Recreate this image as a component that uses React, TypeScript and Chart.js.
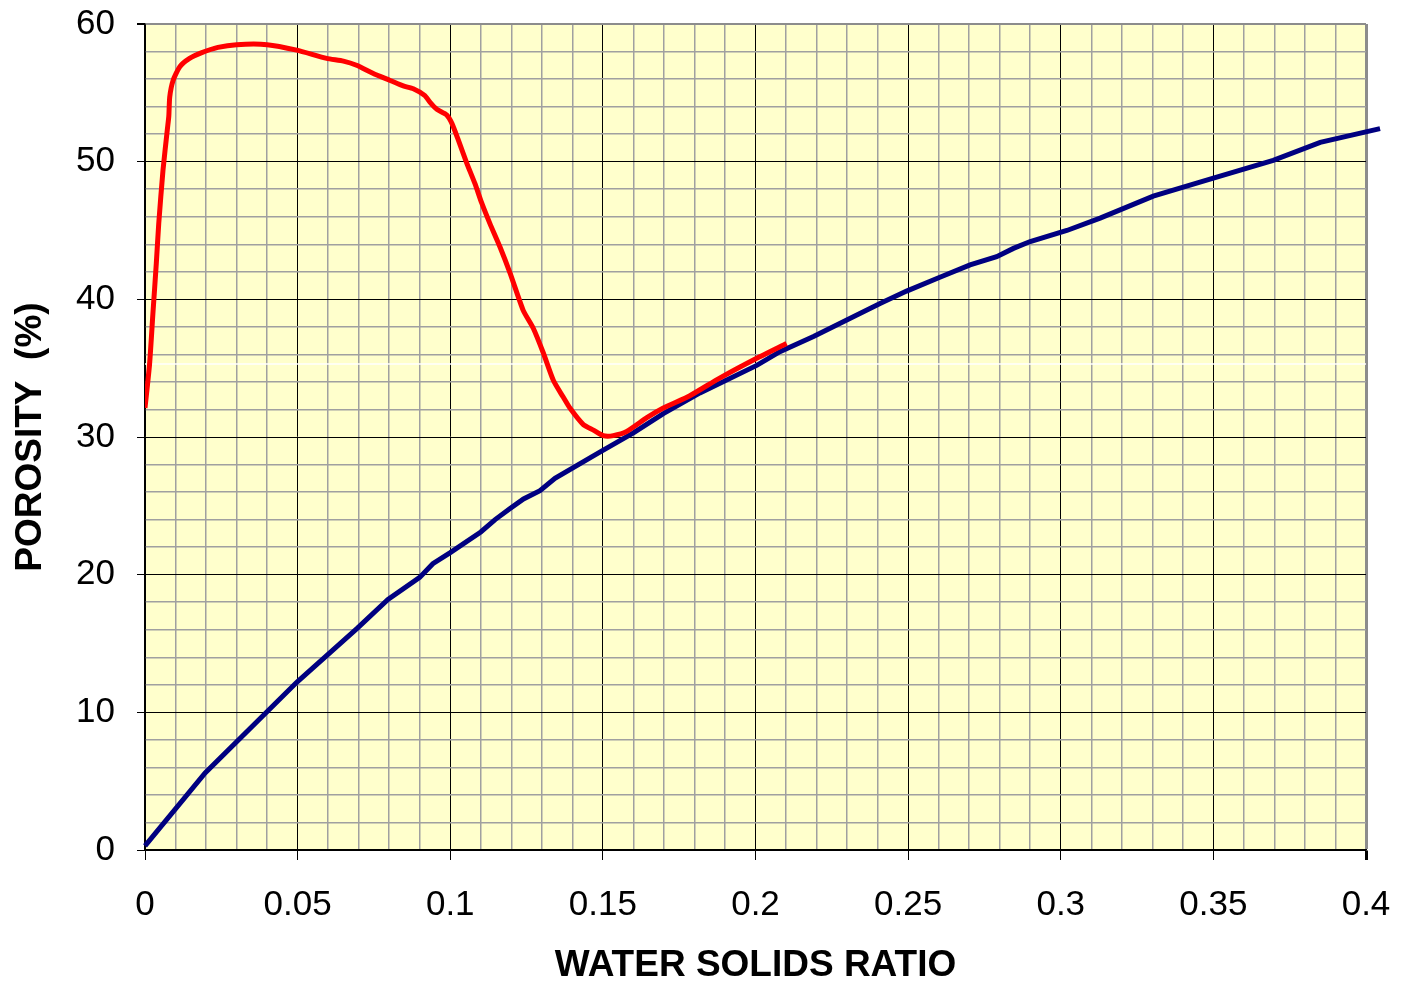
import React, { useEffect, useRef } from "react";
import { Chart, registerables } from "chart.js";

Chart.register(...registerables);

// Red curve (experimental)
const redX = [0, 0.0015, 0.0026, 0.0037, 0.0045, 0.0059, 0.0073, 0.0078, 0.0081, 0.0092, 0.0114, 0.0146, 0.0184, 0.0239, 0.03, 0.04, 0.0497, 0.0595, 0.065, 0.0693, 0.0748, 0.0803, 0.0846, 0.0879, 0.0917, 0.0934, 0.0956, 0.0988, 0.1005, 0.1026, 0.1054, 0.1081, 0.1103, 0.113, 0.1163, 0.1196, 0.1239, 0.1272, 0.1305, 0.1338, 0.137, 0.1392, 0.1436, 0.1469, 0.1501, 0.1534, 0.1578, 0.1644, 0.1698, 0.1785, 0.1884, 0.1993, 0.2102];
const redY = [32.1, 35.3, 39.0, 42.6, 45.5, 49.4, 52.3, 53.3, 54.7, 55.9, 56.9, 57.5, 57.9, 58.3, 58.5, 58.5, 58.1, 57.5, 57.3, 57.0, 56.4, 55.9, 55.5, 55.3, 54.8, 54.3, 53.8, 53.4, 52.8, 51.6, 49.9, 48.4, 47.0, 45.5, 43.8, 41.9, 39.2, 37.9, 36.1, 34.1, 32.9, 32.1, 30.9, 30.5, 30.1, 30.1, 30.4, 31.4, 32.1, 33.0, 34.3, 35.6, 36.8];

// Blue curve (theoretical)
const blueX = [0, 0.0197, 0.0498, 0.0695, 0.0796, 0.09, 0.0943, 0.1, 0.11, 0.1147, 0.1196, 0.124, 0.1294, 0.1343, 0.149, 0.16, 0.1698, 0.1818, 0.2004, 0.208, 0.219, 0.2299, 0.2408, 0.2495, 0.2604, 0.2703, 0.279, 0.2845, 0.29, 0.302, 0.3129, 0.3303, 0.35, 0.3696, 0.385, 0.4046];
const blueY = [0.3, 5.6, 12.2, 16.1, 18.2, 19.8, 20.8, 21.6, 23.1, 24.0, 24.8, 25.5, 26.1, 27.0, 28.9, 30.3, 31.7, 33.2, 35.2, 36.2, 37.3, 38.5, 39.7, 40.6, 41.6, 42.5, 43.1, 43.7, 44.2, 45.0, 45.9, 47.5, 48.8, 50.1, 51.4, 52.4];

// Faint white horizontal line
const whiteX = [0, 0.4];
const whiteY = [35.3, 35.3];

const xMin = 0, xMax = 0.4, xMinorStep = 0.01, xMajorStep = 0.05;
const yMin = 0, yMax = 60, yMinorStep = 2, yMajorStep = 10;

const xTitle = "WATER SOLIDS RATIO";
const yTitle = "POROSITY  (%)";

const FONT = "'Liberation Sans', Arial, sans-serif";

function isMajor(v: number, step: number) {
  const r = v / step;
  return Math.abs(r - Math.round(r)) < 1e-6;
}

function pts(xs: number[], ys: number[]) {
  return xs.map((x, i) => ({ x, y: ys[i] }));
}

export default function App() {
  const ref = useRef<HTMLCanvasElement | null>(null);

  useEffect(() => {
    if (!ref.current) return;
    const chart = new Chart(ref.current, {
      type: "scatter",
      data: {
        datasets: [
          {
            data: pts(redX, redY),
            showLine: true,
            borderColor: "#FF0000",
            borderWidth: 5,
            pointRadius: 0,
            tension: 0.2,
            order: 1,
          },
          {
            data: pts(blueX, blueY),
            showLine: true,
            borderColor: "#000080",
            borderWidth: 5,
            pointRadius: 0,
            tension: 0,
            order: 2,
            clip: { left: 5, top: 5, right: 20, bottom: 5 } as any,
          },
          {
            data: pts(whiteX, whiteY),
            showLine: true,
            borderColor: "#FFFFFF",
            borderWidth: 1.5,
            pointRadius: 0,
            order: 3,
          },
        ],
      },
      options: {
        responsive: false,
        animation: false,
        events: [],
        layout: { padding: { top: 24, right: 35, left: 0, bottom: 0 } },
        plugins: {
          legend: { display: false },
          tooltip: { enabled: false },
        },
        scales: {
          x: {
            type: "linear",
            min: xMin,
            max: xMax,
            afterFit: (s: any) => {
              s.height = 134;
              s.paddingLeft = 0;
              s.paddingRight = 0;
            },
            border: { display: true, color: "#000", width: 1.5 },
            grid: {
              color: (ctx: any) => {
                const v = ctx.tick?.value ?? 0;
                if (Math.abs(v - xMax) < 1e-6) return "#8c8c8c";
                return isMajor(v, xMajorStep) ? "#000000" : "#a0a0a0";
              },
              lineWidth: (ctx: any) => {
                const v = ctx.tick?.value ?? 0;
                if (Math.abs(v - xMax) < 1e-6) return 3;
                return isMajor(v, xMajorStep) ? 1 : 1.5;
              },
              tickColor: (ctx: any) => {
                const v = ctx.tick?.value ?? 0;
                return isMajor(v, xMajorStep) ? "#000000" : "rgba(0,0,0,0)";
              },
              tickLength: 10,
              drawTicks: true,
            },
            ticks: {
              stepSize: xMinorStep,
              autoSkip: false,
              maxRotation: 0,
              minRotation: 0,
              padding: 24,
              color: "#000",
              font: { family: FONT, size: 35 },
              callback: (v: any) => {
                const n = Number(v);
                return isMajor(n, xMajorStep) ? String(Math.round(n * 100) / 100) : "";
              },
            },
            title: {
              display: true,
              text: xTitle,
              color: "#000",
              font: { family: FONT, size: 37, weight: "bold", lineHeight: 1.0 },
              padding: { top: 0, bottom: 0 },
            },
          },
          y: {
            type: "linear",
            min: yMin,
            max: yMax,
            afterFit: (s: any) => {
              s.width = 145;
              s.paddingTop = 0;
              s.paddingBottom = 0;
            },
            border: { display: true, color: "#000", width: 1.5 },
            grid: {
              color: (ctx: any) => {
                const v = ctx.tick?.value ?? 0;
                if (Math.abs(v - yMax) < 1e-6) return "#8c8c8c";
                return isMajor(v, yMajorStep) ? "#000000" : "#a0a0a0";
              },
              lineWidth: (ctx: any) => {
                const v = ctx.tick?.value ?? 0;
                if (Math.abs(v - yMax) < 1e-6) return 2;
                return isMajor(v, yMajorStep) ? 1 : 1.5;
              },
              tickColor: (ctx: any) => {
                const v = ctx.tick?.value ?? 0;
                return isMajor(v, yMajorStep) ? "#000000" : "rgba(0,0,0,0)";
              },
              tickLength: 8,
            },
            ticks: {
              stepSize: yMinorStep,
              autoSkip: false,
              padding: 22,
              color: "#000",
              font: { family: FONT, size: 35 },
              callback: (v: any) => {
                const n = Number(v);
                return isMajor(n, yMajorStep) ? String(n) : "";
              },
            },
            title: {
              display: true,
              text: yTitle,
              color: "#000",
              font: { family: FONT, size: 37, weight: "bold" },
              padding: { top: 9, bottom: 0 },
            },
          },
        },
      },
      plugins: [
        {
          id: "plotBg",
          beforeDraw: (c: any) => {
            const { ctx, chartArea } = c;
            ctx.save();
            ctx.fillStyle = "#FFFFFF";
            ctx.fillRect(0, 0, c.width, c.height);
            ctx.fillStyle = "#FFFFCC";
            ctx.fillRect(chartArea.left, chartArea.top, chartArea.right - chartArea.left, chartArea.bottom - chartArea.top);
            ctx.restore();
          },
        },
      ],
    });
    return () => chart.destroy();
  }, []);

  return (
    <div style={{ position: "absolute", left: 0, top: 0, width: 1401, height: 984, background: "#fff" }}>
      <canvas ref={ref} width={1401} height={984} style={{ display: "block" }} />
    </div>
  );
}
